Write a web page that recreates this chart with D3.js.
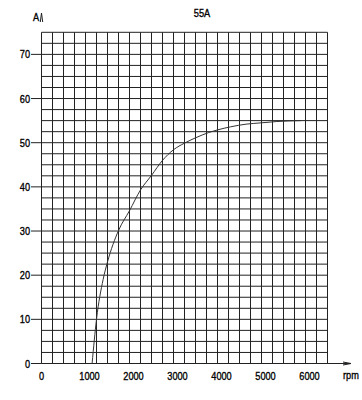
<!DOCTYPE html>
<html>
<head>
<meta charset="utf-8">
<script src="https://cdn.jsdelivr.net/npm/d3@7"></script>
<style>
  body { margin: 0; background: #fff; }
  text { font-family: "Liberation Sans", Arial, sans-serif; fill: #000; stroke: #000; stroke-width: 0.35px; font-size: 11.5px; }
</style>
</head>
<body>
<div id="chart"></div>
<script>
// current curve, 55A alternator
const rpm  = [1150, 1250, 1400, 1500, 1750, 2000, 2250, 2500, 2750, 3000, 3250, 3500, 3800, 4000, 4300, 4650, 5000, 5350, 5900];
const amps = [0, 10, 19, 23, 30.1, 34.6, 39.3, 42.6, 46.0, 48.4, 49.9, 51.1, 52.3, 52.9, 53.6, 54.2, 54.5, 54.8, 55.0];
const xTicks = [0, 1000, 2000, 3000, 4000, 5000, 6000];
const yTicks = [0, 10, 20, 30, 40, 50, 60, 70];

const width = 362, height = 400;

const svg = d3.select("#chart")
    .append("svg")
    .attr("width", width)
    .attr("height", height);

const x = d3.scaleLinear().domain([0, 6500]).range([41.5, 327.5]);
const y = d3.scaleLinear().domain([0, 75]).range([363.5, 32.3]);

// narrow text: squeeze horizontally like the original condensed font
function label(g, tx, ty, str, anchor) {
    return g.append("text")
        .attr("transform", `translate(${tx},${ty}) scale(0.8,1)`)
        .attr("text-anchor", anchor || "start")
        .text(str);
}

// grid (every 250 rpm / 2.5 A)
const grid = svg.append("g").attr("stroke", "#222").attr("stroke-width", 1);
grid.selectAll(".vx")
    .data(d3.range(0, 6501, 250))
    .enter().append("line")
    .attr("x1", d => x(d)).attr("x2", d => x(d))
    .attr("y1", y(0)).attr("y2", y(75));
grid.selectAll(".hy")
    .data(d3.range(0, 75.1, 2.5))
    .enter().append("line")
    .attr("x1", x(0)).attr("x2", x(6500))
    .attr("y1", d => y(d)).attr("y2", d => y(d));

// axes
svg.append("line")
    .attr("x1", x(0)).attr("x2", 350)
    .attr("y1", y(0)).attr("y2", y(0))
    .attr("stroke", "#222");
svg.append("path")
    .attr("d", `M343,${y(0) - 1.5} L351,${y(0)} L343,${y(0) + 1.5}`)
    .attr("fill", "none").attr("stroke", "#222");
svg.append("path")
    .attr("d", `M${x(0) - 1.2},22 L${x(0)},13 L${x(0) + 1.2},22`)
    .attr("fill", "none").attr("stroke", "#222");

// y ticks + labels
svg.append("g").selectAll("line")
    .data(yTicks)
    .enter().append("line")
    .attr("x1", 31).attr("x2", x(0))
    .attr("y1", d => y(d)).attr("y2", d => y(d))
    .attr("stroke", "#222");
const yl = svg.append("g");
yTicks.forEach(d => label(yl, 30, y(d) + 4, d, "end"));

// x labels
const xl = svg.append("g");
xTicks.forEach(d => label(xl, x(d) + (d === 0 ? 0 : 4), 380, d, "middle"));

const misc = svg.append("g");
label(misc, 343, 379, "rpm");
label(misc, 33, 21, "A");
label(misc, 202, 17, "55A", "middle");

// curve
const line = d3.line()
    .x((d, i) => x(rpm[i]))
    .y(d => y(d))
    .curve(d3.curveMonotoneX);

svg.append("path")
    .datum(amps)
    .attr("d", line)
    .attr("fill", "none")
    .attr("stroke", "#333")
    .attr("stroke-width", 1);
</script>
</body>
</html>
